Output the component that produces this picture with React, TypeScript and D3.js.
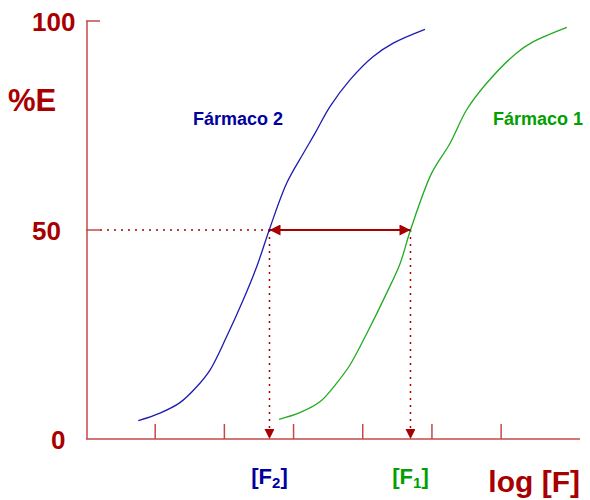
import React from "react";
import * as d3 from "d3";

// Dose-response curves: x = log[F] (axis units), y = %E
const drug2X = [0.756, 1.069, 1.358, 1.6, 1.792, 2.033, 2.273, 2.467, 2.652, 2.9, 3.14, 3.309, 3.526, 3.815, 4.152, 4.441, 4.899];
const drug2Y = [4.4, 6.2, 8.7, 12.5, 16.5, 24.5, 33.3, 41.2, 50.2, 61.2, 68.3, 73.1, 79.5, 85.9, 91.5, 94.7, 98.0];
const drug1X = [2.79, 3.09, 3.38, 3.62, 3.815, 4.06, 4.345, 4.54, 4.69, 4.996, 5.26, 5.5, 5.79, 6.22, 6.46, 6.95];
const drug1Y = [4.7, 6.3, 8.9, 13.3, 17.7, 25.3, 34.9, 42.0, 50.0, 63.6, 70.7, 78.7, 85.1, 92.3, 95.0, 98.5];
const ec50Drug2 = 2.652;
const ec50Drug1 = 4.69;
const halfEffect = 50;
const xTicks = [1, 2, 3, 4, 5, 6];
const yTickValues = [0, 50, 100];
const yTickLabels = ["0", "50", "100"];
const seriesNames = ["Fármaco 2", "Fármaco 1"];

const W = 590;
const H = 500;
const DARK_RED = "#a80000";
const AXIS_RED = "#c44848";
const BLUE_LINE = "#1c1cb0";
const GREEN_LINE = "#22aa22";
const BLUE_TEXT = "#0000a0";
const GREEN_TEXT = "#00a000";
const FONT = "'Liberation Sans', Arial, Helvetica, sans-serif";

export default function App() {
  const x = d3.scaleLinear().domain([0, 7.14]).range([86, 580]);
  const y = d3.scaleLinear().domain([0, 100]).range([439, 21]);

  const line = d3
    .line<[number, number]>()
    .x((d) => x(d[0]))
    .y((d) => y(d[1]))
    .curve(d3.curveCatmullRom.alpha(0.5));

  const d2 = line(drug2X.map((v, i) => [v, drug2Y[i]] as [number, number])) || "";
  const d1 = line(drug1X.map((v, i) => [v, drug1Y[i]] as [number, number])) || "";

  const y50 = y(halfEffect);
  const x2 = x(ec50Drug2);
  const x1 = x(ec50Drug1);
  const y0 = y(0);

  const yLabelX = [51, 32, 32];

  return (
    <svg width={W} height={H} style={{ position: "absolute", left: 0, top: 0, background: "#fff" }}>
      <defs>
        <marker id="ah" viewBox="0 0 10 10" refX="10" refY="5" markerWidth="10" markerHeight="10" markerUnits="userSpaceOnUse" orient="auto-start-reverse">
          <path d="M0,0 L10,5 L0,10 z" fill={DARK_RED} />
        </marker>
        <marker id="ah2" viewBox="0 0 10 10" refX="10" refY="5" markerWidth="12" markerHeight="11" markerUnits="userSpaceOnUse" orient="auto-start-reverse">
          <path d="M0,0 L10,5 L0,10 z" fill={DARK_RED} />
        </marker>
      </defs>

      {/* Axes */}
      <line x1={87} x2={87} y1={y(100)} y2={y0} stroke={AXIS_RED} strokeWidth={1.5} />
      <line x1={86} x2={x(7.14)} y1={y0} y2={y0} stroke={AXIS_RED} strokeWidth={1.5} />
      {yTickValues.filter((v) => v > 0).map((v) => (
        <line key={"yt" + v} x1={86} x2={100} y1={y(v)} y2={y(v)} stroke={AXIS_RED} strokeWidth={1.5} />
      ))}
      {xTicks.map((t) => (
        <line key={"xt" + t} x1={x(t)} x2={x(t)} y1={y0 - 15} y2={y0} stroke={AXIS_RED} strokeWidth={1.5} />
      ))}

      {/* Y tick labels */}
      {yTickValues.map((v, i) => (
        <text key={"yl" + v} x={yLabelX[i]} y={y(v) + 10} fontFamily={FONT} fontWeight="bold" fontSize={26} fill={DARK_RED}>
          {yTickLabels[i]}
        </text>
      ))}
      <text x={8} y={111} fontFamily={FONT} fontWeight="bold" fontSize={31} fill={DARK_RED}>%E</text>

      {/* Dotted guides */}
      <line x1={100} x2={x2} y1={y50} y2={y50} stroke={DARK_RED} strokeWidth={1.5} strokeDasharray="2 5" />
      <line x1={x2} x2={x2} y1={y50} y2={y0} stroke={DARK_RED} strokeWidth={1.5} strokeDasharray="2 5" markerEnd="url(#ah)" />
      <line x1={x1} x2={x1} y1={y50} y2={y0} stroke={DARK_RED} strokeWidth={1.5} strokeDasharray="2 5" markerEnd="url(#ah)" />

      {/* Curves */}
      <path d={d2} fill="none" stroke={BLUE_LINE} strokeWidth={1.3} />
      <path d={d1} fill="none" stroke={GREEN_LINE} strokeWidth={1.3} />

      {/* Double arrow */}
      <line x1={x2} x2={x1} y1={y50} y2={y50} stroke={DARK_RED} strokeWidth={2} markerStart="url(#ah2)" markerEnd="url(#ah2)" />

      {/* Series labels */}
      <text x={193} y={125} fontFamily={FONT} fontWeight="bold" fontSize={18} fill={BLUE_TEXT}>{seriesNames[0]}</text>
      <text x={493} y={125} fontFamily={FONT} fontWeight="bold" fontSize={18} fill={GREEN_TEXT}>{seriesNames[1]}</text>

      {/* X labels */}
      <text x={x2} y={484} textAnchor="middle" fontFamily={FONT} fontWeight="bold" fontSize={22} fill={BLUE_TEXT}>
        [F<tspan fontSize={15} dy={4}>2</tspan><tspan dy={-4}>]</tspan>
      </text>
      <text x={x1} y={484} textAnchor="middle" fontFamily={FONT} fontWeight="bold" fontSize={22} fill={GREEN_TEXT}>
        [F<tspan fontSize={15} dy={4}>1</tspan><tspan dy={-4}>]</tspan>
      </text>
      <text x={580} y={492} textAnchor="end" fontFamily={FONT} fontWeight="bold" fontSize={30} fill={DARK_RED}>log [F]</text>
    </svg>
  );
}
